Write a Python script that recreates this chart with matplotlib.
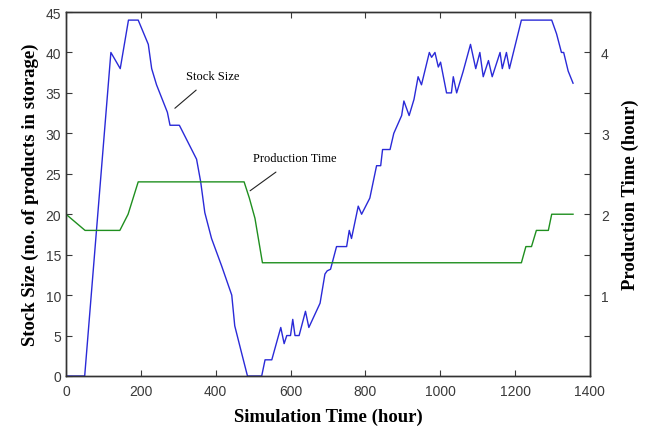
import matplotlib
matplotlib.use("Agg")
import matplotlib.pyplot as plt

# ---- data ----
stock_time = [0, 50, 120, 145, 167, 193, 220, 229, 242, 271, 278, 303, 349, 360, 371,
              389, 416, 443, 451, 469, 485, 523, 532, 550, 574, 583, 590, 600, 606, 612,
              623, 640, 649, 679, 692, 698, 707, 723, 750, 757, 763, 781, 790, 812, 830,
              841, 846, 866, 876, 897, 903, 917, 930, 941, 950, 971, 977, 986, 995, 1001,
              1017, 1030, 1035, 1044, 1061, 1081, 1095, 1106, 1115, 1129, 1139, 1160,
              1166, 1177, 1185, 1217, 1298, 1311, 1324, 1330, 1342, 1355]
stock_size = [0, 0, 40, 38, 44, 44, 41, 38, 36, 32.6, 31, 31, 26.8, 24, 20.2,
              17, 13.6, 10, 6.2, 2.9, 0, 0, 2, 2, 6, 4, 5, 5, 7, 5,
              5, 8, 6, 9, 12.6, 13, 13.2, 16, 16, 18, 17, 21, 20, 22, 26,
              26, 28, 28, 30, 32.2, 34, 32.2, 34.2, 37, 36, 40, 39.4, 40, 38.2, 38.8,
              35, 35, 37, 35, 37.6, 41, 38, 40, 37, 39, 37, 40,
              38, 40, 38, 44, 44, 42.3, 40, 40, 37.7, 36.2]

prod_time_x = [0, 51, 144, 166, 193, 476, 490, 505, 525, 1217, 1229, 1244, 1257, 1289, 1298, 1355]
prod_time = [2.0, 1.8, 1.8, 2.0, 2.4, 2.4, 2.2, 1.95, 1.4, 1.4, 1.6, 1.6, 1.8, 1.8, 2.0, 2.0]

x_ticks = [0, 200, 400, 600, 800, 1000, 1200, 1400]
left_ticks = [0, 5, 10, 15, 20, 25, 30, 35, 40, 45]
right_ticks = [0.5, 1, 1.5, 2, 2.5, 3, 3.5, 4]
right_labels = ["", "1", "", "2", "", "3", "", "4"]

serif = ["Liberation Serif", "DejaVu Serif"]
sans = ["Liberation Sans", "DejaVu Sans"]

fig = plt.figure(figsize=(6.5, 4.31), dpi=100)
ax = fig.add_axes([0.1015, 0.1253, 0.806, 0.8445])
ax2 = ax.twinx()

ax.plot(stock_time, stock_size, color="#2a2ad8", lw=1.0)
ax2.plot(prod_time_x, prod_time, color="#1f8f1f", lw=1.0)

ax.set_xlim(0, 1400)
ax.set_ylim(0, 45)
ax2.set_ylim(0, 4.5)

ax.set_xticks(x_ticks)
ax.set_yticks(left_ticks)
ax2.set_yticks(right_ticks)
ax2.set_yticklabels(right_labels)

for a in (ax, ax2):
    for s in a.spines.values():
        s.set_color("#333333")
        s.set_linewidth(1.0)
ax.tick_params(axis="both", direction="in", length=4, colors="#3a3a3a",
               labelsize=10, top=True, right=False)
ax.tick_params(axis="x", pad=6)
ax2.tick_params(axis="y", direction="in", length=4, colors="#3a3a3a", labelsize=10, pad=8)
for lab in ax.get_xticklabels() + ax.get_yticklabels() + ax2.get_yticklabels():
    lab.set_fontfamily(sans)

ax.set_xlabel("Simulation Time (hour)", fontfamily=serif, fontweight="bold",
              fontsize=13.5, labelpad=7)
ax.set_ylabel("Stock Size (no. of products in storage)", fontfamily=serif,
              fontweight="bold", fontsize=13.5, labelpad=5)
ax2.set_ylabel("Production Time (hour)", fontfamily=serif, fontweight="bold",
               fontsize=13.5, labelpad=9)

ax.annotate("Stock Size", xy=(291, 33.1), xytext=(321, 37.1),
            fontfamily=serif, fontsize=9, va="center", ha="left",
            arrowprops=dict(arrowstyle="-", color="#222222", lw=0.8,
                            shrinkA=6, shrinkB=0))
ax.annotate("Production Time", xy=(492, 22.9), xytext=(500, 26.9),
            fontfamily=serif, fontsize=9, va="center", ha="left",
            arrowprops=dict(arrowstyle="-", color="#222222", lw=0.8,
                            shrinkA=6, shrinkB=0))

fig.savefig("out.png", dpi=100)
